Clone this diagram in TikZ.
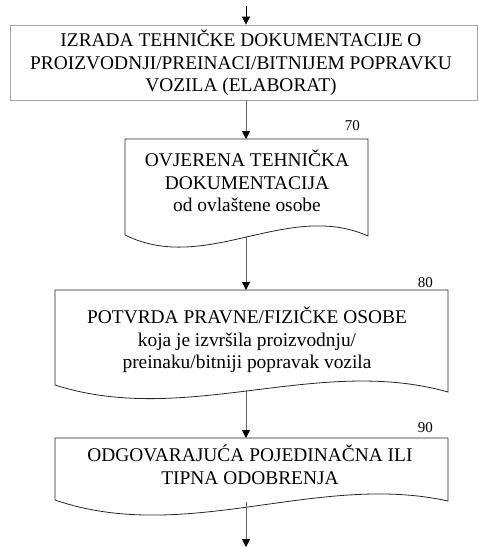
\documentclass[tikz,border=0pt]{standalone}
\usepackage{fontspec}
\setmainfont{Liberation Serif}
\usetikzlibrary{arrows.meta}
\begin{document}
\begin{tikzpicture}[x=1pt,y=-1pt,
  txt/.style={font=\fontsize{19.4}{22.5}\selectfont, align=center, inner sep=0pt},
  num/.style={font=\fontsize{15}{18}\selectfont, anchor=base east, inner sep=0pt},
  conn/.style={draw=black!60, line width=0.8pt, -{Triangle[width=8pt,length=8pt,color=black]}},
  docbox/.style={draw=black!85, line width=0.8pt},
  rectbox/.style={draw=black!35, line width=0.8pt}]
\useasboundingbox (0,0) rectangle (479,547);
% box 1
\node[rectbox, minimum width=467pt, minimum height=75pt, inner sep=0pt] (b1) at (243.5,62.5) {};
\node[txt] (t1) at (241,63) {IZRADA TEHNIČKE DOKUMENTACIJE O\\PROIZVODNJI/PREINACI/BITNIJEM POPRAVKU\\VOZILA (ELABORAT)};
\coordinate (start) at (246,6);
\coordinate (b1bot) at (246,100);
% box 2
\draw[docbox] (125,235) -- (125,139) -- (368,139) -- (368,236)
  .. controls (287,200) and (206,275) .. (125,235);
\coordinate (b2top) at (246,139);
\coordinate (b2bot) at (246,236);
\node[txt] (t2) at (247,181) {OVJERENA TEHNIČKA\\DOKUMENTACIJA\\od ovlaštene osobe};
\node[num] (n70) at (360,130) {70};
% box 3
\draw[docbox] (55,385) -- (55,290) -- (448,290) -- (448,392)
  .. controls (317,355) and (186,427) .. (55,385);
\coordinate (b3top) at (246,290);
\coordinate (b3bot) at (246,390);
\node[txt] (t3) at (247,340) {POTVRDA PRAVNE/FIZIČKE OSOBE\\koja je izvršila proizvodnju/\\preinaku/bitniji popravak vozila};
\node[num] (n80) at (433,287) {80};
% box 4
\draw[docbox] (55,500) -- (55,438) -- (448,438) -- (448,501)
  .. controls (317,472) and (186,545) .. (55,500);
\coordinate (b4top) at (246,438);
\coordinate (b4bot) at (246,502);
\node[txt] (t4) at (250,465) {ODGOVARAJUĆA POJEDINAČNA ILI\\TIPNA ODOBRENJA};
\node[num] (n90) at (433,432) {90};
\coordinate (end) at (246,547);
% connectors
\draw[conn, draw=black] (start) -- (start |- b1.north);
\draw[conn] (b1bot) -- (b2top);
\draw[conn] (b2bot) -- (b3top);
\draw[conn] (b3bot) -- (b4top);
\draw[conn] (b4bot) -- (end);
\end{tikzpicture}
\end{document}
